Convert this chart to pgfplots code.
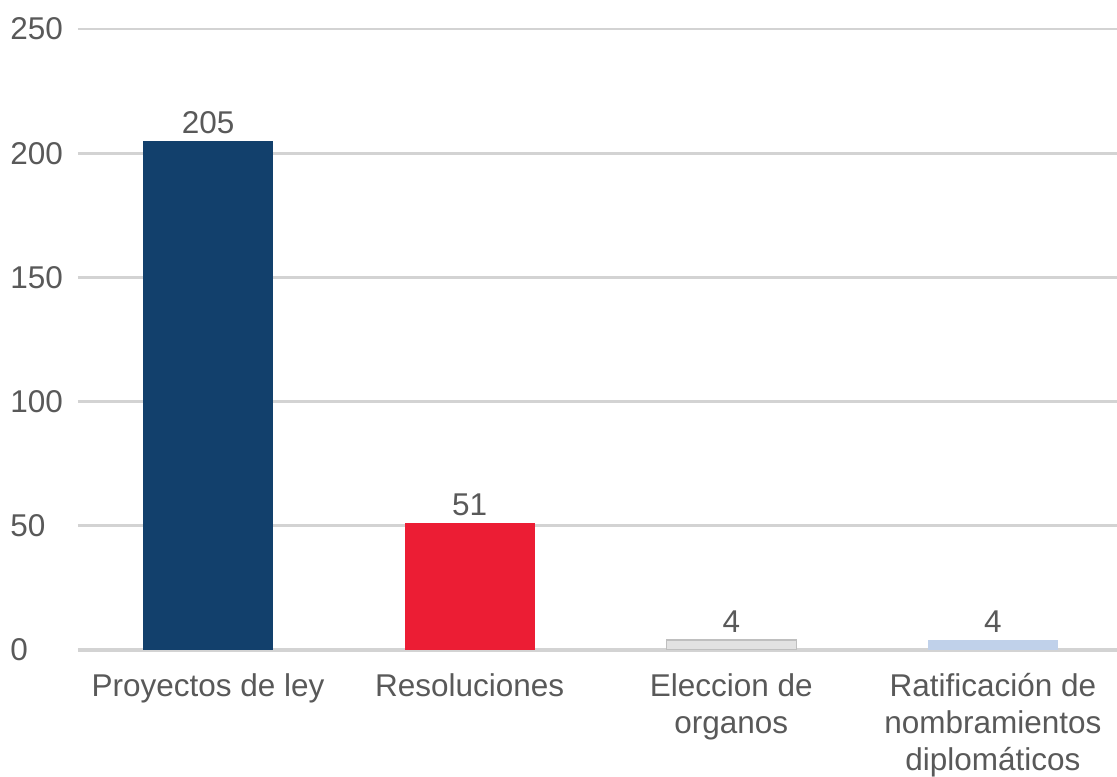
\documentclass[border=0pt]{standalone}
\usepackage{pgfplots}
\pgfplotsset{compat=1.18}
\usepackage{fontspec}
\setmainfont{Liberation Sans}
\definecolor{navy}{HTML}{12406C}
\definecolor{redbar}{HTML}{EC1D34}
\definecolor{graybar}{HTML}{E2E2E2}
\definecolor{bluebar}{HTML}{C0D1EA}
\definecolor{txt}{HTML}{595959}
\definecolor{gridc}{HTML}{D3D3D3}
\begin{document}
\begin{tikzpicture}
\begin{axis}[
  scale only axis,
  width=519.5pt, height=310.5pt,
  xmin=-0.497, xmax=3.474,
  ymin=0, ymax=250,
  ytick={0,50,100,150,200,250},
  xtick={0,1,2,3},
  xticklabels={{Proyectos de ley},{Resoluciones},{Eleccion de\\organos},{Ratificación de\\nombramientos\\diplomáticos}},
  axis x line*=bottom,
  axis y line*=left,
  y axis line style={draw=none},
  x axis line style={color=gridc, line width=1.6pt, -},
  major tick length=0pt,
  ymajorgrids,
  grid style={color=gridc, line width=1.3pt},
  /pgf/number format/assume math mode=true,
  tick label style={font=\fontsize{15.75}{18.4}\selectfont, text=txt},
  xticklabel style={align=center, inner sep=0pt, anchor=north, yshift=-11.5pt},
  yticklabel style={anchor=west, inner sep=0pt, xshift=-34pt},
  ybar, bar width=65pt,
  nodes near coords,
  every node near coord/.append style={font=\fontsize{15.75}{18.5}\selectfont, text=txt, inner sep=0pt, anchor=south, yshift=3.5pt},
  bar shift=0pt,
]
\addplot[fill=navy, draw=none] coordinates {(0,205)};
\addplot[fill=redbar, draw=none] coordinates {(1,51)};
\addplot[fill=graybar, draw=black!25, line width=0.6pt] coordinates {(2,4)};
\addplot[fill=bluebar, draw=none] coordinates {(3,4)};
\end{axis}
\pgfresetboundingbox
\path ([shift={(-39pt,-63.5pt)}]current axis.south west) rectangle ([shift={(0pt,14.5pt)}]current axis.north east);
\end{tikzpicture}
\end{document}
